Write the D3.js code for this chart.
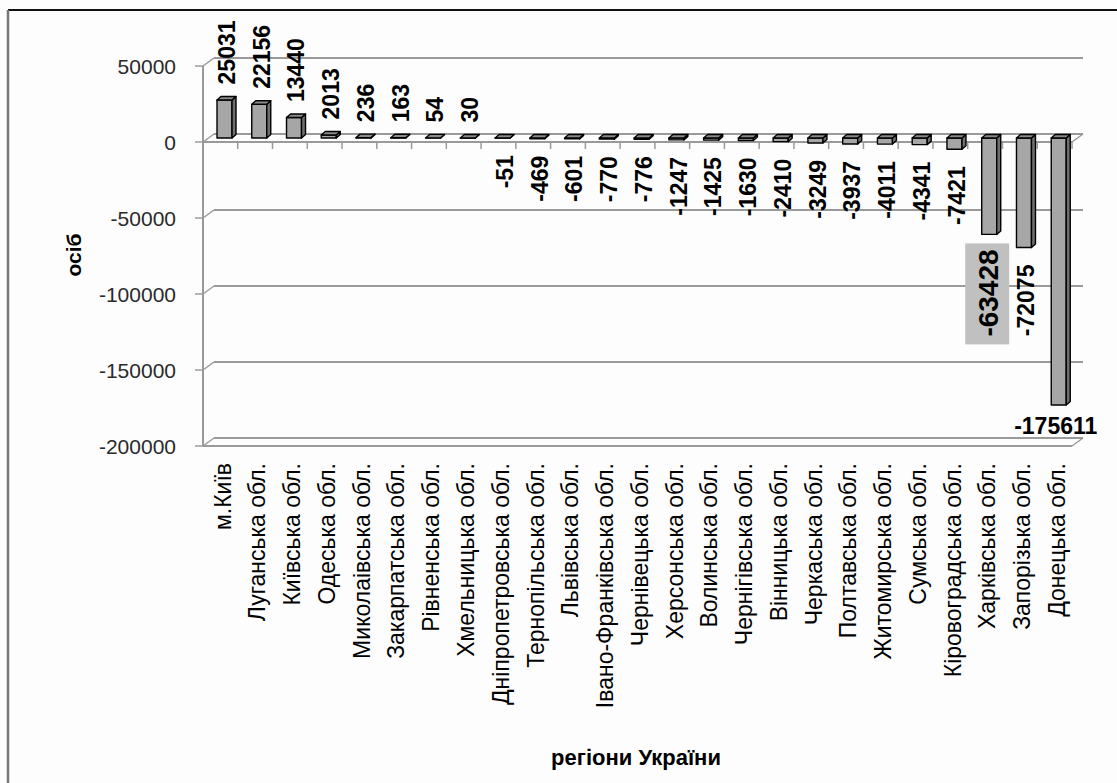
<!DOCTYPE html>
<html><head><meta charset="utf-8">
<script src="https://cdn.jsdelivr.net/npm/d3@7"></script>
<style>
html,body{margin:0;padding:0;background:#fdfdfd;}
svg{display:block;font-family:"Liberation Sans",Arial,sans-serif;}
</style></head>
<body>
<svg id="chart" width="1117" height="783"></svg>
<script>
const categories = ["м.Київ","Луганська обл.","Київська обл.","Одеська обл.","Миколаівська обл.","Закарпатська обл.","Рівненська обл.","Хмельницька обл.","Дніпропетровська обл.","Тернопільська обл.","Львівська обл.","Івано-Франківська обл.","Чернівецька обл.","Херсонська обл.","Волинська обл.","Чернігівська обл.","Вінницька обл.","Черкаська обл.","Полтавська обл.","Житомирська обл.","Сумська обл.","Кіровоградська обл.","Харківська обл.","Запорізька обл.","Донецька обл."];
const values = [25031,22156,13440,2013,236,163,54,30,-51,-469,-601,-770,-776,-1247,-1425,-1630,-2410,-3249,-3937,-4011,-4341,-7421,-63428,-72075,-175611];
const yTicks = [50000,0,-50000,-100000,-150000,-200000];
const yTitle = "осіб";
const xTitle = "регіони України";

(function(){
const svg = d3.select("#chart");
const pLeft = 203, pRight = 1072, pTop = 66, pBottom = 446;
const wdx = 11, wdy = -8;      // wall depth offset
const bdx = 4, bdy = -3.5;     // bar depth offset
const y = d3.scaleLinear().domain([-200000, 50000]).range([pBottom, pTop]);
const x = d3.scaleBand().domain(categories).range([pLeft, pRight]).padding(0);
const bw = x.bandwidth();
const grid = "#9a9a9a";

// frame
svg.append("line").attr("x1",8).attr("y1",10).attr("x2",1117).attr("y2",10).attr("stroke","#111").attr("stroke-width",2);
svg.append("line").attr("x1",8).attr("y1",10).attr("x2",8).attr("y2",783).attr("stroke","#777").attr("stroke-width",2.5);

// back gridlines with left diagonal and ticks
yTicks.forEach(t => {
  const yy = y(t);
  svg.append("line").attr("x1",pLeft+wdx).attr("x2",pRight+wdx).attr("y1",yy+wdy).attr("y2",yy+wdy).attr("stroke",grid).attr("stroke-width",2);
  svg.append("line").attr("x1",pLeft).attr("x2",pLeft+wdx).attr("y1",yy).attr("y2",yy+wdy).attr("stroke",grid).attr("stroke-width",1.5);
  svg.append("line").attr("x1",pLeft-8).attr("x2",pLeft).attr("y1",yy).attr("y2",yy).attr("stroke",grid).attr("stroke-width",1.5);
  svg.append("text").attr("x",176).attr("y",yy).attr("dy","0.36em").attr("text-anchor","end")
    .attr("font-size",21).attr("fill","#2a2a2a").text(t);
});
// floor front edge
const yb = y(-200000);
svg.append("line").attr("x1",pLeft).attr("x2",pRight).attr("y1",yb).attr("y2",yb).attr("stroke",grid).attr("stroke-width",2);
svg.append("line").attr("x1",pRight).attr("x2",pRight+wdx).attr("y1",yb).attr("y2",yb+wdy).attr("stroke",grid).attr("stroke-width",1.5);
// y axis line
svg.append("line").attr("x1",pLeft).attr("x2",pLeft).attr("y1",pTop).attr("y2",pBottom).attr("stroke",grid).attr("stroke-width",2);
// zero axis front line + category ticks
const y0f = y(0);
svg.append("line").attr("x1",pLeft).attr("x2",pRight).attr("y1",y0f).attr("y2",y0f).attr("stroke",grid).attr("stroke-width",2);
svg.append("line").attr("x1",pRight).attr("x2",pRight+wdx).attr("y1",y0f).attr("y2",y0f+wdy).attr("stroke",grid).attr("stroke-width",1.5);
categories.forEach((c,i) => {
  const xx = x(c) + bw;
  svg.append("line").attr("x1",xx).attr("x2",xx).attr("y1",y0f).attr("y2",y0f+7).attr("stroke",grid).attr("stroke-width",1.5);
});

// bars
const mid = v => y(v) + wdy/2;
const g = svg.append("g");
categories.forEach((c,i) => {
  const v = values[i];
  const x0 = x(c) + 14, x1 = x0 + 15;
  const yv = mid(v), yz = mid(0);
  const ya = Math.min(yv,yz), yB = Math.max(yv,yz);
  const face = (pts, fill) => {
    g.append("polygon").attr("points", pts.map(p=>p.join(",")).join(" ")).attr("fill",fill)
      .attr("stroke","#000").attr("stroke-width",1.4).attr("stroke-linejoin","round");
  };
  face([[x0,ya],[x1,ya],[x1,yB],[x0,yB]], "#a6a6a6");
  face([[x1,ya],[x1+bdx,ya+bdy],[x1+bdx,yB+bdy],[x1,yB]], "#6e6e6e");
  face([[x0,ya],[x0+bdx,ya+bdy],[x1+bdx,ya+bdy],[x1,ya]], "#8a8a8a");
});

// value labels
categories.forEach((c,i) => {
  const v = values[i];
  const cx = x(c) + 14 + 7.5 + bdx/2;
  const yv = mid(v);
  if (v === -175611) {
    svg.append("text").attr("x",cx-5).attr("y",yv+29).attr("text-anchor","middle")
      .attr("font-size",23).attr("font-weight","bold").attr("fill","#000").text(v);
    return;
  }
  if (v === -63428) {
    svg.append("rect").attr("x",cx-26).attr("y",yv+9).attr("width",44).attr("height",101).attr("fill","#c0c0c0");
    svg.append("text").attr("transform",`translate(${cx-3},${yv+15}) rotate(-90)`).attr("dy","0.36em")
      .attr("text-anchor","end").attr("font-size",28).attr("font-weight","bold").attr("fill","#000").text(v);
    return;
  }
  const ly = v >= 0 ? yv + bdy - 12 : yv + 17;
  svg.append("text").attr("transform",`translate(${cx},${ly}) rotate(-90)`).attr("dy","0.36em")
    .attr("text-anchor", v >= 0 ? "start" : "end").attr("font-size",23).attr("font-weight","bold").attr("fill","#000").text(v);
});

// category labels
categories.forEach(c => {
  const cx = x(c) + bw/2 + 2;
  svg.append("text").attr("transform",`translate(${cx},463) rotate(-90)`).attr("dy","0.36em")
    .attr("text-anchor","end").attr("font-size",23).attr("fill","#000").text(c);
});

// axis titles
svg.append("text").attr("transform","translate(73,255) rotate(-90)").attr("dy","0.36em").attr("text-anchor","middle")
  .attr("font-size",21).attr("font-weight","bold").attr("fill","#000").text(yTitle);
svg.append("text").attr("x",636).attr("y",765).attr("text-anchor","middle")
  .attr("font-size",22).attr("font-weight","bold").attr("fill","#000").text(xTitle);
})();
</script>
</body></html>
